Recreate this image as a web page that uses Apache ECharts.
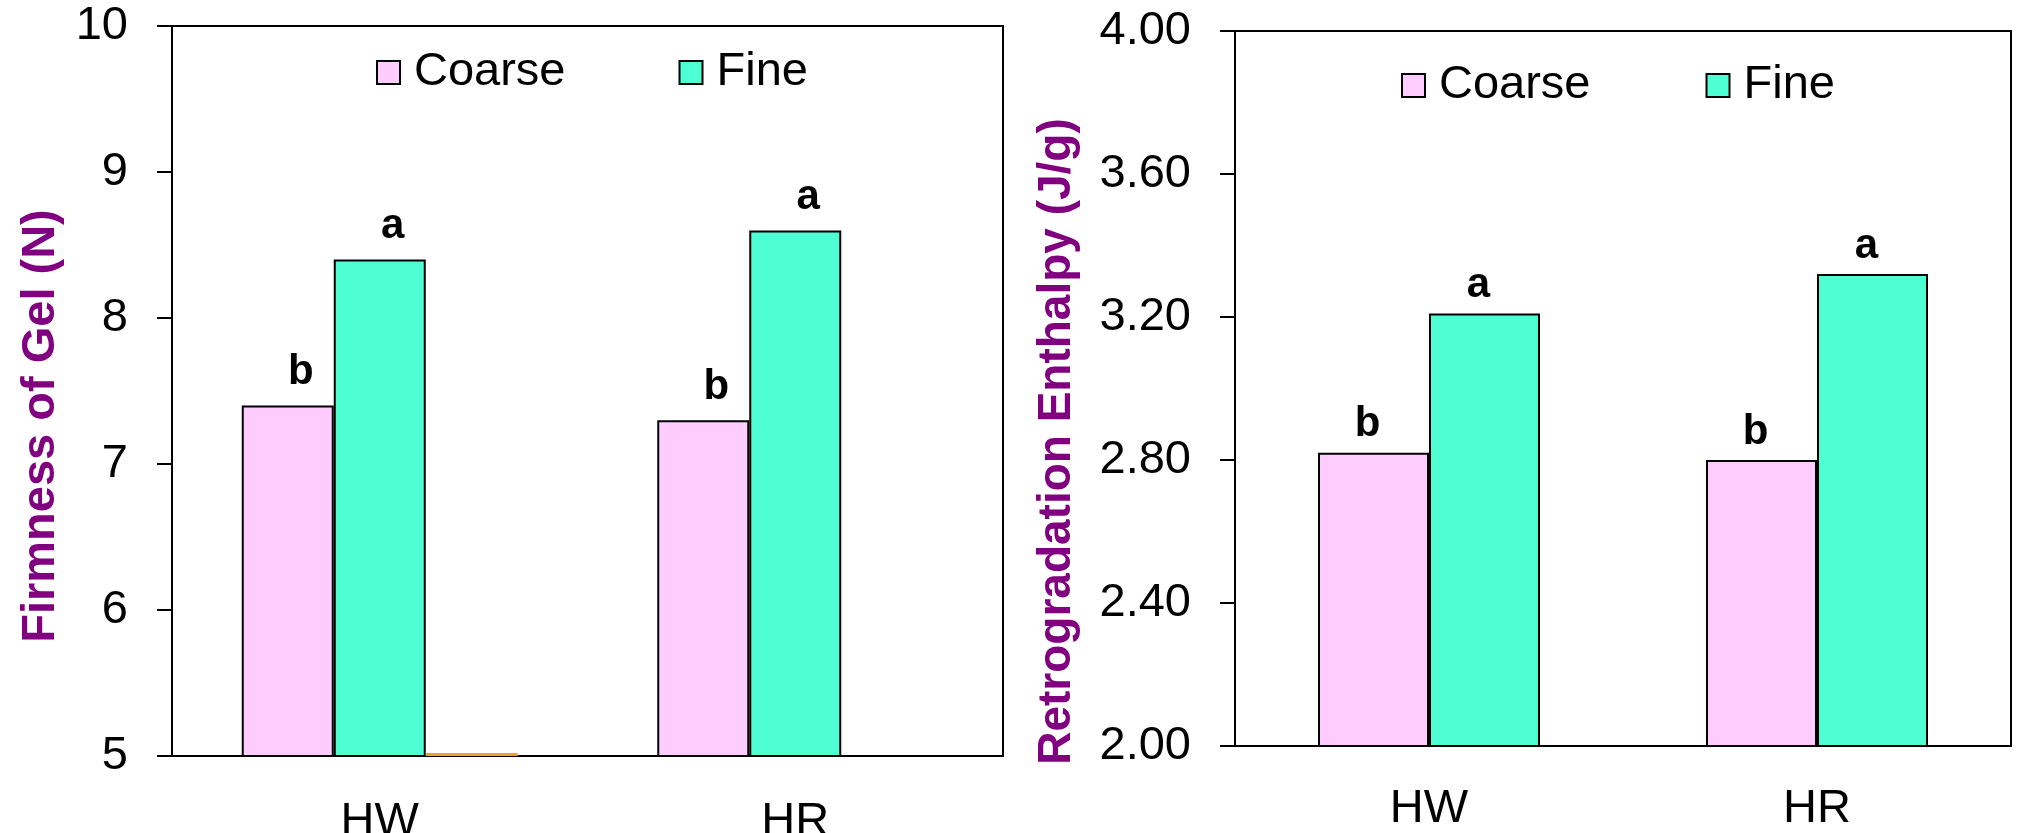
<!DOCTYPE html>
<html>
<head>
<meta charset="utf-8">
<script src="https://cdn.jsdelivr.net/npm/echarts@6/dist/echarts.min.js"></script>
<style>
  html, body { margin: 0; padding: 0; background: #fff; }
</style>
</head>
<body>
<div id="main" style="width: 2018px;height:833px;"></div>

<script>
// categories and values
var groups = ['HW', 'HR'];
var seriesNames = ['Coarse', 'Fine'];

var firmCoarse = [7.4, 7.3];
var firmFine = [8.4, 8.6];
var firmExtra = [5.02, null];   // the thin orange mark at the HW baseline

var enthCoarse = [2.82, 2.80];
var enthFine = [3.21, 3.32];

var coarseLetters = ['b', 'b'];
var fineLetters = ['a', 'a'];

var firmTicks = { min: 5, max: 10, interval: 1 };
var enthTicks = { min: 2, max: 4, interval: 0.4 };

var pink = '#FFCCFF';
var green = '#4DFFD3';
var orange = '#F0A030';
var purple = '#800080';
var font = 'Liberation Sans, Arial, sans-serif';

var myChart = echarts.init(document.getElementById('main'));

function letterLabel(letters, dx, dist) {
    return {
        show: true,
        position: 'top',
        distance: dist,
        offset: [dx, 0],
        fontFamily: font,
        fontWeight: 'bold',
        fontSize: 42,
        color: '#000',
        formatter: function (p) { return letters[p.dataIndex]; }
    };
}

function xAxisOf(gridIndex, margin) {
    return {
        type: 'category',
        gridIndex: gridIndex,
        data: groups,
        axisLine: { lineStyle: { color: '#000', width: 2 } },
        axisTick: { length: 14, lineStyle: { color: '#000', width: 2 } },
        axisLabel: { fontFamily: font, fontSize: 47, color: '#000', margin: margin },
        splitLine: { show: false }
    };
}

function yAxisOf(gridIndex, ticks, name, nameSize, nameGap, shift, fmt) {
    return {
        type: 'value',
        gridIndex: gridIndex,
        min: ticks.min,
        max: ticks.max,
        interval: ticks.interval,
        name: name,
        nameLocation: 'middle',
        nameGap: nameGap,
        nameTextStyle: {
            fontFamily: font, fontWeight: 'bold', fontSize: nameSize, color: purple,
            padding: [0, shift, 0, 0]
        },
        axisLine: { show: true, lineStyle: { color: '#000', width: 2 } },
        axisTick: { show: true, length: 15, lineStyle: { color: '#000', width: 2 } },
        axisLabel: { fontFamily: font, fontSize: 47, color: '#000', margin: 44, formatter: fmt },
        splitLine: { show: false }
    };
}

var legendBase = {
    data: seriesNames,
    orient: 'horizontal',
    padding: 0,
    itemWidth: 23,
    itemHeight: 23,
    icon: 'rect',
    itemStyle: { borderColor: '#000', borderWidth: 2 },
    textStyle: { fontFamily: font, fontSize: 47, color: '#000', padding: [0, 0, 0, 9] }
};

option = {
    animation: false,
    backgroundColor: '#fff',
    legend: [
        Object.assign({}, legendBase, { left: 376, top: 49, itemGap: 113 }),
        Object.assign({}, legendBase, { left: 1401, top: 62, itemGap: 115 })
    ],
    grid: [
        { left: 172, top: 26, width: 831, height: 730, outerBoundsMode: 'none', containLabel: false,
          show: true, borderColor: '#000', borderWidth: 2 },
        { left: 1235, top: 31, width: 776, height: 715, outerBoundsMode: 'none', containLabel: false,
          show: true, borderColor: '#000', borderWidth: 2 }
    ],
    xAxis: [xAxisOf(0, 43), xAxisOf(1, 40)],
    yAxis: [
        yAxisOf(0, firmTicks, 'Firmness of Gel (N)', 47, 107, 70, function (v) { return v; }),
        yAxisOf(1, enthTicks, 'Retrogradation Enthalpy (J/g)', 46, 155, 106, function (v) { return v.toFixed(2); })
    ],
    series: [
        {
            name: 'Coarse', type: 'bar', xAxisIndex: 0, yAxisIndex: 0,
            data: firmCoarse, barWidth: 92, barGap: '0%',
            itemStyle: { color: pink, borderColor: '#000', borderWidth: 2 },
            label: letterLabel(coarseLetters, 13, 12)
        },
        {
            name: 'Fine', type: 'bar', xAxisIndex: 0, yAxisIndex: 0,
            data: firmFine, barWidth: 92, barGap: '0%',
            itemStyle: { color: green, borderColor: '#000', borderWidth: 2 },
            label: letterLabel(fineLetters, 13, 12)
        },
        {
            name: 'extra', type: 'bar', xAxisIndex: 0, yAxisIndex: 0,
            data: firmExtra, barWidth: 92, barGap: '0%',
            itemStyle: { color: orange, borderWidth: 0 }
        },
        {
            name: 'Coarse', type: 'bar', xAxisIndex: 1, yAxisIndex: 1,
            data: enthCoarse, barWidth: 111, barGap: '0%',
            itemStyle: { color: pink, borderColor: '#000', borderWidth: 2 },
            label: letterLabel(coarseLetters, -6, 7)
        },
        {
            name: 'Fine', type: 'bar', xAxisIndex: 1, yAxisIndex: 1,
            data: enthFine, barWidth: 111, barGap: '0%',
            itemStyle: { color: green, borderColor: '#000', borderWidth: 2 },
            label: letterLabel(fineLetters, -6, 7)
        }
    ]
};
myChart.setOption(option);
</script>
</body>
</html>
